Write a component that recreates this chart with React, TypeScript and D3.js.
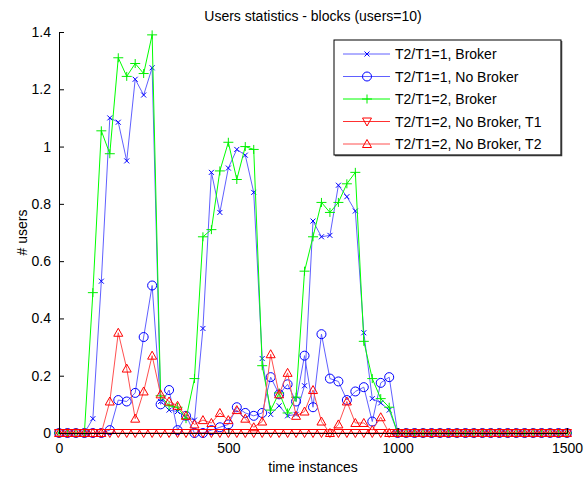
import * as d3 from "d3"
import { useEffect, useRef } from "react"

// time instances (sampled every 25)
const timeInstances = [
    0, 25, 50, 75, 100, 125, 150, 175, 200, 225, 250, 275, 300, 325, 350, 375, 400, 425, 450, 475,
    500, 525, 550, 575, 600, 625, 650, 675, 700, 725, 750, 775, 800, 825, 850, 875, 900, 925, 950, 975,
    1000, 1025, 1050, 1075, 1100, 1125, 1150, 1175, 1200, 1225, 1250, 1275, 1300, 1325, 1350, 1375, 1400, 1425, 1450, 1475, 1500,
]

const brokerR1 = [
    0, 0, 0, 0, 0.05, 0.53, 1.10, 1.085, 0.95, 1.235, 1.18, 1.275, 0.11, 0.08, 0.075, 0.055, 0.045, 0.365, 0.91, 0.77,
    0.925, 0.99, 0.97, 0.84, 0.26, 0.065, 0.095, 0.06, 0.065, 0.165, 0.74, 0.685, 0.69, 0.865, 0.825, 0.775, 0.35, 0.12, 0.105, 0.08,
    0, 0, 0, 0, 0, 0, 0, 0, 0, 0, 0, 0, 0, 0, 0, 0, 0, 0, 0, 0, 0,
]

const noBrokerR1 = [
    0, 0, 0, 0, 0, 0, 0.01, 0.115, 0.11, 0.14, 0.335, 0.515, 0.1, 0.15, 0.01, 0.06, 0, 0, 0.01, 0.02,
    0.03, 0.09, 0.07, 0.06, 0.07, 0.195, 0.135, 0.17, 0.11, 0.27, 0.09, 0.345, 0.19, 0.18, 0.115, 0.145, 0.16, 0.04, 0.175, 0.195,
    0, 0, 0, 0, 0, 0, 0, 0, 0, 0, 0, 0, 0, 0, 0, 0, 0, 0, 0, 0, 0,
]

const brokerR2 = [
    0, 0, 0, 0, 0.49, 1.055, 0.975, 1.31, 1.245, 1.29, 1.255, 1.39, 0.13, 0.095, 0.09, 0.05, 0.19, 0.685, 0.71, 0.915,
    1.015, 0.885, 1.0, 0.99, 0.235, 0.08, 0.14, 0.07, 0.125, 0.565, 0.685, 0.805, 0.77, 0.805, 0.87, 0.91, 0.32, 0.19, 0.12, 0.09,
    0, 0, 0, 0, 0, 0, 0, 0, 0, 0, 0, 0, 0, 0, 0, 0, 0, 0, 0, 0, 0,
]

const noBrokerR2T1 = [
    0, 0, 0, 0, 0, 0, 0, 0, 0, 0, 0, 0, 0, 0, 0, 0, 0, 0, 0, 0,
    0, 0, 0, 0, 0, 0, 0, 0, 0, 0, 0, 0, 0, 0, 0, 0, 0, 0, 0, 0,
    0, 0, 0, 0, 0, 0, 0, 0, 0, 0, 0, 0, 0, 0, 0, 0, 0, 0, 0, 0, 0,
]

const noBrokerR2T2 = [
    0, 0, 0, 0, 0, 0, 0.11, 0.35, 0.225, 0.05, 0.145, 0.27, 0.135, 0.11, 0.095, 0.06, 0.03, 0.045, 0.035, 0.07,
    0.045, 0.08, 0.05, 0.02, 0.04, 0.275, 0.135, 0.21, 0.06, 0.075, 0.15, 0.04, 0, 0.03, 0.11, 0.035, 0.035, 0.01, 0.055, 0,
    0, 0, 0, 0, 0, 0, 0, 0, 0, 0, 0, 0, 0, 0, 0, 0, 0, 0, 0, 0, 0,
]

const xTicks = [0, 500, 1000, 1500]
const yTicks = [0, 0.2, 0.4, 0.6, 0.8, 1, 1.2, 1.4]

type Marker = "x" | "o" | "+" | "v" | "^"

const series: { name: string, values: number[], color: string, line: string, marker: Marker }[] = [
    { name: "T2/T1=1, Broker", values: brokerR1, color: "#0000ff", line: "#6060ff", marker: "x" },
    { name: "T2/T1=1, No Broker", values: noBrokerR1, color: "#0000ff", line: "#6060ff", marker: "o" },
    { name: "T2/T1=2, Broker", values: brokerR2, color: "#00ee00", line: "#00ff00", marker: "+" },
    { name: "T2/T1=2, No Broker, T1", values: noBrokerR2T1, color: "#ff0000", line: "#ff3030", marker: "v" },
    { name: "T2/T1=2, No Broker, T2", values: noBrokerR2T2, color: "#ff0000", line: "#ff5050", marker: "^" },
]

function markerPath(m: Marker, x: number, y: number): string {
    switch (m) {
        case "x": return `M${x - 2.5},${y - 2.5}L${x + 2.5},${y + 2.5}M${x - 2.5},${y + 2.5}L${x + 2.5},${y - 2.5}`
        case "+": return `M${x - 5},${y}L${x + 5},${y}M${x},${y - 4.5}L${x},${y + 4.5}`
        case "o": return `M${x + 4.5},${y}A4.5,4.5 0 1,1 ${x - 4.5},${y}A4.5,4.5 0 1,1 ${x + 4.5},${y}`
        case "v": return `M${x - 4.5},${y - 3.5}L${x + 4.5},${y - 3.5}L${x},${y + 4.5}Z`
        case "^": return `M${x - 4.5},${y + 3.5}L${x + 4.5},${y + 3.5}L${x},${y - 4.5}Z`
    }
}

export default function App() {
    const svgRef = useRef<SVGSVGElement>(null)

    useEffect(() => {
        const width = 584
        const height = 477
        const marginLeft = 59
        const marginRight = 17
        const marginTop = 32
        const marginBottom = 44

        const xScale = d3.scaleLinear([0, 1500], [marginLeft, width - marginRight])
        const yScale = d3.scaleLinear([0, 1.4], [height - marginBottom, marginTop])

        if (svgRef.current !== null) {
            svgRef.current.innerHTML = ""
        }

        const svg = d3.select(svgRef.current)
            .attr("width", width)
            .attr("height", height)
            .attr("viewBox", [0, 0, width, height])
            .style("font-family", "Liberation Sans, Arial, sans-serif")

        svg.append("rect").attr("width", width).attr("height", height).attr("fill", "#fff")

        const line = d3.line<number>()
            .x((_, i) => xScale(timeInstances[i]))
            .y(v => yScale(v))

        series.forEach(s => {
            const g = svg.append("g")
            g.append("path")
                .attr("d", line(s.values))
                .attr("fill", "none")
                .attr("stroke", s.line)
                .attr("stroke-width", 1)
            g.selectAll()
                .data(s.values)
                .join("path")
                .attr("d", (v, i) => markerPath(s.marker, xScale(timeInstances[i]), yScale(v)))
                .attr("fill", "none")
                .attr("stroke", s.color)
                .attr("stroke-width", 1)
        })

        // axes (MATLAB style, ticks inward, no box)
        svg.append("g")
            .attr("transform", `translate(0, ${height - marginBottom})`)
            .call(d3.axisBottom(xScale).tickValues(xTicks).tickSizeInner(-5).tickSizeOuter(0).tickPadding(10).tickFormat(d3.format("d")))
            .call(g => g.select(".domain").attr("stroke", "#000"))
            .call(g => g.selectAll("text").attr("font-size", 14).attr("fill", "#000"))

        svg.append("g")
            .attr("transform", `translate(${marginLeft}, 0)`)
            .call(d3.axisLeft(yScale).tickValues(yTicks).tickSizeInner(-5).tickSizeOuter(0).tickPadding(8).tickFormat(d => String(+(+d).toFixed(1))))
            .call(g => g.select(".domain").attr("stroke", "#000"))
            .call(g => g.selectAll("text").attr("font-size", 14).attr("fill", "#000"))

        svg.append("text")
            .attr("x", (marginLeft + width - marginRight) / 2)
            .attr("y", 21)
            .attr("text-anchor", "middle")
            .attr("font-size", 14)
            .text("Users statistics - blocks (users=10)")

        svg.append("text")
            .attr("x", (marginLeft + width - marginRight) / 2)
            .attr("y", 472)
            .attr("text-anchor", "middle")
            .attr("font-size", 14)
            .text("time instances")

        svg.append("text")
            .attr("transform", `translate(27, ${(marginTop + height - marginBottom) / 2}) rotate(-90)`)
            .attr("text-anchor", "middle")
            .attr("font-size", 14)
            .text("# users")

        // legend
        const lx = 334, ly = 40, lw = 227, lh = 115
        const legend = svg.append("g")
        legend.append("rect")
            .attr("x", lx).attr("y", ly).attr("width", lw).attr("height", lh)
            .attr("fill", "#fff").attr("stroke", "#000").attr("stroke-width", 1)
        legend.append("path")
            .attr("d", `M${lx + 1},${ly + lh + 0.5}L${lx + lw + 0.5},${ly + lh + 0.5}L${lx + lw + 0.5},${ly + 1}`)
            .attr("fill", "none").attr("stroke", "#333").attr("stroke-width", 1.5)
        series.forEach((s, i) => {
            const y = ly + 14 + i * 22.5
            legend.append("line")
                .attr("x1", lx + 9).attr("x2", lx + 56).attr("y1", y).attr("y2", y)
                .attr("stroke", s.line).attr("stroke-width", 1)
            legend.append("path")
                .attr("d", markerPath(s.marker, lx + 33, y))
                .attr("fill", "none").attr("stroke", s.color).attr("stroke-width", 1)
            legend.append("text")
                .attr("x", lx + 61).attr("y", y + 5)
                .attr("font-size", 14)
                .text(s.name)
        })
    }, [])

    return <svg ref={svgRef} style={{ position: "absolute", left: 0, top: 0 }}></svg>
}
